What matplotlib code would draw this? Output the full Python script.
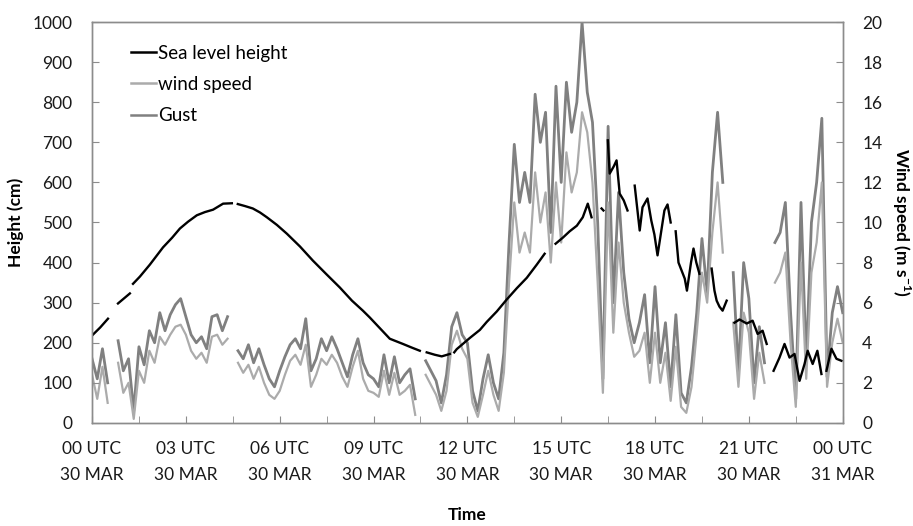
import numpy as np
import matplotlib.pyplot as plt
from matplotlib.lines import Line2D

plt.rcParams['font.family'] = ['Lato', 'DejaVu Sans']
plt.rcParams['mathtext.fontset'] = 'custom'
plt.rcParams['mathtext.rm'] = 'Lato'
plt.rcParams['mathtext.bf'] = 'Lato:bold'

# ------------------------------------------------------------
# Sea level height (cm), time in hours from 00 UTC 30 MAR
# nan = missing data (gaps in the line)
# ------------------------------------------------------------
sea_hours = [
    0.0, 0.26, 0.51, 0.6, 0.83, 1.21, 1.27, 1.31, 1.53, 1.85, 2.27, 2.56, 2.81,
    3.07, 3.35, 3.61, 3.87, 4.19, 4.47, 4.55, 4.66, 4.89, 5.14, 5.37, 5.59,
    5.91, 6.23, 6.65, 7.06, 7.48, 7.92, 8.31, 8.66, 8.88, 9.52, 9.94, 10.22,
    10.48, 10.55, 10.70, 10.96, 11.18, 11.44, 11.52, 11.58, 11.66, 12.08, 12.40,
    12.62, 12.94, 13.26, 13.58, 13.90, 14.22, 14.47, 14.6, 14.82, 15.05, 15.27,
    15.50, 15.69, 15.85, 15.97, 16.05, 16.29, 16.35, 16.42, 16.49, 16.55, 16.68,
    16.77, 16.87, 17.0, 17.12, 17.2, 17.35, 17.51, 17.60, 17.76, 17.88, 17.98,
    18.08, 18.2, 18.3, 18.4, 18.5, 18.6, 18.66, 18.75, 18.85, 18.95, 19.02,
    19.15, 19.23, 19.32, 19.42, 19.5, 19.81, 19.9, 19.97, 20.06, 20.16, 20.29,
    20.35, 20.54, 20.7, 20.93, 21.12, 21.28, 21.44, 21.57, 21.65, 21.79, 21.98,
    22.14, 22.30, 22.46, 22.62, 22.78, 22.88, 23.04, 23.19, 23.32, 23.38, 23.48,
    23.64, 23.80, 23.96,
]
sea_level = [
    218, 238, 260, np.nan, 298, 323, np.nan, 347, 365, 395, 438, 462, 485,
    502, 518, 526, 532, 547, 548, np.nan, 546, 541, 535, 525, 513,
    494, 472, 440, 405, 372, 338, 305, 280, 263, 210, 197, 188,
    180, np.nan, 176, 170, 166, 172, np.nan, 176, 184, 212, 232,
    252, 278, 308, 336, 362, 395, 422, np.nan, 447, 462, 478,
    492, 513, 547, 513, np.nan, 535, 530, np.nan, 705, 622, 640,
    655, 572, 555, 530, np.nan, 592, 480, 538, 560, 505, 470,
    418, 480, 530, 545, 500, np.nan, 478, 400, 380, 360, 330,
    400, 435, 400, 372, np.nan, 385, 330, 305, 290, 280, 305,
    np.nan, 250, 258, 248, 255, 222, 230, 197, np.nan, 130, 163,
    197, 163, 172, 105, 147, 180, 147, 180, 122, np.nan, 130,
    185, 160, 155,
]

# ------------------------------------------------------------
# Wind speed and gust (m/s), 10-minute steps, one row per hour
# ------------------------------------------------------------
wind_hours = [k / 6 for k in range(145)]

gust = [
    3.2, 2.2, 3.7, 2.0, np.nan, 4.1,      # 00
    2.6, 3.2, 0.6, 3.8, 2.9, 4.6,         # 01
    4.0, 5.5, 4.6, 5.4, 5.9, 6.2,         # 02
    5.3, 4.4, 4.0, 4.3, 3.7, 5.3,         # 03
    5.4, 4.6, 5.3, np.nan, 3.6, 3.2,      # 04
    3.9, 3.0, 3.7, 2.9, 2.2, 1.8,         # 05
    2.6, 3.3, 3.9, 4.2, 3.7, 5.2,         # 06
    2.6, 3.2, 4.2, 3.6, 4.3, 3.7,         # 07
    3.0, 2.3, 3.4, 4.2, 3.0, 2.4,         # 08
    2.2, 1.8, 3.4, 2.0, 3.3, 2.0,         # 09
    2.4, 2.7, 1.2, np.nan, 3.1, 2.6,      # 10
    2.1, 1.0, 2.4, 4.8, 5.5, 4.4,         # 11
    4.0, 1.6, 0.6, 2.2, 3.4, 2.0,         # 12
    1.2, 3.5, 9.0, 13.9, 11.0, 12.5,      # 13
    11.0, 16.4, 14.0, 15.5, 9.5, 16.8,    # 14
    12.0, 17.0, 14.5, 16.0, 20.0, 16.5,   # 15
    15.0, 10.0, 2.2, 14.8, 6.0, 11.5,     # 16
    7.5, 5.2, 4.0, 5.0, 6.4, 3.0,         # 17
    6.8, 3.0, 5.0, 1.8, 5.4, 1.5,         # 18
    1.0, 2.8, 5.5, 9.2, 6.5, 12.5,        # 19
    15.5, 12.0, np.nan, 7.5, 2.5, 8.0,    # 20
    6.2, 2.0, 4.8, 3.0, np.nan, 9.0,      # 21
    9.5, 11.0, 5.5, 1.2, 11.0, 3.0,       # 22
    10.0, 12.0, 15.2, 2.3, 5.5, 6.8,      # 23
    5.5,
]

wind = [
    2.4, 1.2, 2.8, 1.0, np.nan, 3.0,
    1.5, 2.0, 0.2, 2.6, 2.0, 3.6,
    3.0, 4.3, 3.9, 4.4, 4.8, 4.9,
    4.4, 3.6, 3.2, 3.5, 3.0, 4.3,
    4.4, 3.9, 4.2, np.nan, 3.0, 2.5,
    2.9, 2.2, 2.8, 2.0, 1.4, 1.2,
    1.6, 2.4, 3.1, 3.4, 2.9, 3.9,
    1.8, 2.4, 3.2, 2.9, 3.4, 3.0,
    2.3, 1.8, 2.8, 3.6, 2.2, 1.6,
    1.5, 1.3, 2.6, 1.4, 2.5, 1.4,
    1.6, 1.9, 0.4, np.nan, 2.4, 1.9,
    1.4, 0.6, 1.6, 3.9, 4.6, 3.7,
    3.2, 1.0, 0.3, 1.4, 2.6, 1.4,
    0.6, 2.5, 7.0, 11.0, 8.5, 9.5,
    8.5, 12.5, 10.0, 11.5, 8.0, 12.0,
    9.0, 13.5, 11.5, 12.5, 15.5, 14.5,
    12.0, 7.0, 1.5, 11.0, 4.5, 9.0,
    6.0, 4.5, 3.3, 3.6, 4.5, 2.0,
    4.5, 2.0, 3.5, 1.1, 3.8, 0.8,
    0.5, 1.8, 4.5, 7.5, 6.0, 9.5,
    12.0, 8.5, np.nan, 5.0, 1.8, 5.5,
    4.5, 1.2, 3.5, 2.0, np.nan, 7.0,
    7.5, 8.5, 4.0, 0.8, 8.0, 2.2,
    7.5, 9.0, 12.0, 1.8, 4.0, 5.2,
    4.0,
]

tick_hours = [0, 3, 6, 9, 12, 15, 18, 21, 24]
tick_labels = ['00 UTC\n30 MAR', '03 UTC\n30 MAR', '06 UTC\n30 MAR',
               '09 UTC\n30 MAR', '12 UTC\n30 MAR', '15 UTC\n30 MAR',
               '18 UTC\n30 MAR', '21 UTC\n30 MAR', '00 UTC\n31 MAR']

SEA_COLOR = '#000000'
WIND_COLOR = '#ababab'
GUST_COLOR = '#808080'
AXIS_COLOR = '#8c8c8c'

fig = plt.figure(figsize=(9.13, 5.26), dpi=100)
ax = fig.add_axes([0.1008, 0.196, 0.8222, 0.762])
ax2 = ax.twinx()

# wind + gust on the secondary axis
ax2.plot(wind_hours, gust, color=GUST_COLOR, lw=2.0)
ax2.plot(wind_hours, wind, color=WIND_COLOR, lw=1.6)

# sea level on the primary axis, drawn on top
ax.set_zorder(ax2.get_zorder() + 1)
ax.patch.set_visible(False)
ax.plot(sea_hours, sea_level, color=SEA_COLOR, lw=1.7)

ax.set_xlim(0, 24)
ax.set_ylim(0, 1000)
ax2.set_ylim(0, 20)
ax.set_yticks(np.arange(0, 1001, 100))
ax2.set_yticks(np.arange(0, 21, 2))
ax.set_xticks(tick_hours)
ax.set_xticklabels(tick_labels, linespacing=1.8)
ax.set_xticks(np.arange(1.5, 24, 3), minor=True)

for a in (ax, ax2):
    for sp in a.spines.values():
        sp.set_color(AXIS_COLOR)
        sp.set_linewidth(1.0)
    a.tick_params(which='both', direction='in', length=5, color=AXIS_COLOR,
                  labelsize=12.5, labelcolor='#1a1a1a')
ax.tick_params(axis='x', pad=13)
ax.tick_params(axis='y', pad=14)
ax2.tick_params(axis='y', pad=14)

ax.set_ylabel('Height (cm)', fontsize=12.5, fontweight='bold', labelpad=6)
ax2.set_ylabel(r'Wind speed (m s$^{\mathbf{-1}}$)', fontsize=12.5,
               fontweight='bold', rotation=270, labelpad=22)
ax.set_xlabel('Time', fontsize=12.5, fontweight='bold', labelpad=17)

handles = [Line2D([], [], color=SEA_COLOR, lw=1.8),
           Line2D([], [], color=WIND_COLOR, lw=1.8),
           Line2D([], [], color=GUST_COLOR, lw=1.8)]
ax.legend(handles, ['Sea level height', 'wind speed', 'Gust'],
          loc='upper left', bbox_to_anchor=(0.03, 0.985), frameon=False,
          fontsize=13.5, handlelength=1.3, handletextpad=0.1, labelspacing=0.75)

fig.savefig('out.png', dpi=100)
